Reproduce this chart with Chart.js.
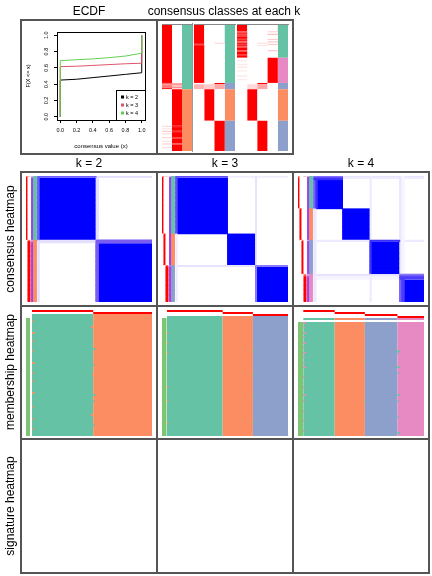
<!DOCTYPE html>
<html>
<head>
<meta charset="utf-8">
<script src="https://cdn.jsdelivr.net/npm/chart.js@4.4.1/dist/chart.umd.min.js"></script>
<style>
  body { margin: 0; background: #fff; font-family: 'Liberation Sans', Arial, sans-serif; }
  #page { position: relative; width: 432px; height: 576px; overflow: hidden; background: #fff; }
  #page canvas { position: absolute; }
  .ln { position: absolute; background: #555; }
  .t { position: absolute; font-size: 12px; color: #000; white-space: nowrap; transform: translate(-50%, -50%); }
  .r { transform: translate(-50%, -50%) rotate(-90deg); }
</style>
</head>
<body>
<div id="page"></div>
<script>
// ---- ECDF of consensus values ----
const ecdfX = [0, 0, 0.2, 0.4, 0.6, 0.8, 1, 1];
const ecdfK2 = [0, 0.45, 0.46, 0.48, 0.50, 0.52, 0.54, 1];
const ecdfK3 = [0, 0.615, 0.62, 0.63, 0.64, 0.65, 0.657, 1];
const ecdfK4 = [0, 0.688, 0.70, 0.71, 0.725, 0.745, 0.78, 1];
const ecdfTicks = [0, 0.2, 0.4, 0.6, 0.8, 1];
const kLabels = ['k = 2', 'k = 3', 'k = 4'];

// ---- class sizes (consensus + membership heatmaps) ----
const sizesK2 = [51, 49];
const sizesK3 = [46, 25, 29];
const sizesK4 = [26, 25, 27, 22];

// ---- consensus classes at each k: run lengths [n, class] ----
const topK2 = [[51, 1], [49, 2]];
const topK3 = [[46, 1], [5, 3], [25, 2], [24, 3]];
const topK4 = [[26, 1], [20, 4], [5, 3], [25, 2], [24, 3]];
// soft membership: [k, class, from, to, prob]
const topSoft = [
  [2,1,46,47,0.6],[2,1,47,48,0.45],[2,1,48,49,0.75],[2,1,49,50,0.5],[2,1,50,51,0.85],
  [2,2,46,47,0.35],[2,2,47,48,0.5],[2,2,48,49,0.25],[2,2,49,50,0.45],[2,2,50,51,0.15],
  [2,1,80,81,0.15],[2,1,82,83,0.12],[2,1,84,85,0.2],[2,1,86,87,0.15],[2,1,89,90,0.18],[2,1,92,93,0.12],[2,1,94,95,0.2],[2,1,97,98,0.15],
  [2,2,80,81,0.85],[2,2,84,85,0.8],[2,2,89,90,0.82],[2,2,94,95,0.8],
  [3,1,15,16,0.7],[3,3,14,15,0.15],[3,1,47,51,0.3],[3,3,47,51,0.35],[3,2,47,51,0.2],
  [4,1,5,6,0.75],[4,1,7,8,0.7],[4,1,8,9,0.8],[4,1,11,12,0.75],[4,1,13,14,0.7],[4,1,15,16,0.75],[4,1,17,18,0.8],[4,1,20,21,0.7],[4,1,23,24,0.75],
  [4,4,5,6,0.2],[4,4,7,8,0.25],[4,4,11,12,0.2],[4,4,13,14,0.25],[4,4,15,16,0.2],[4,4,20,21,0.25],
  [4,1,28,29,0.12],[4,1,31,32,0.1],[4,1,33,34,0.12],[4,1,36,37,0.1],[4,1,40,41,0.12],[4,1,43,44,0.1],
  [4,3,14,15,0.12],[4,3,16,17,0.12],[4,3,47,51,0.35],[4,2,47,51,0.15]
];

// ---- consensus heatmap annotations: [row, column (0 = silhouette), value] ----
const consSoftK2 = [[0,1,0.45],[0,2,0.3],[0,0,0.35],[1,0,0.7],[51,2,0.6],[51,0,0.5],[52,0,0.7]];
const consSoftK3 = [[0,1,0.4],[0,2,0.2],[0,3,0.2],[0,0,0.3],[71,3,0.6],[71,0,0.6]];
const consSoftK4 = [[0,1,0.5],[0,4,0.3],[0,0,0.4],[1,1,0.8],[51,3,0.6],[51,0,0.5],[78,4,0.5],[78,0,0.45],[79,4,0.7],[79,0,0.6]];
// lower-consensus samples: [sample, count, colour inside block, colour outside]
const consEdgesK2 = [[0,1,'#6A5CFF','#E2DCFF'],[51,2,'#7B5CF0','#E6E0FF']];
const consEdgesK3 = [[0,1,'#5E4CF6','#F0ECFF'],[71,1,'#8C7CFA','#E8E2FF']];
const consEdgesK4 = [[0,1,'#8870FF','#E6E0FF'],[1,1,'#5E4CFF','#F0ECFF'],[2,1,'#3A2EFF',null],[51,1,'#3A30FF','#EEEAFF'],
                     [78,1,'#8C74F8','#E6E0FF'],[79,1,'#6C58FA','#EEEAFF'],[80,2,'#4C3CFC','#F6F4FF']];

// ---- membership heatmap speckles: [row, from, to, class] ----
const memSpeckK2 = [[3,0,1,2],[9,0,2,2],[13,0,1,2],[18,0,1,2],[24,0,2,2],[29,0,1,2],[33,0,1,2],[39,0,2,2],[46,0,1,2],[52,0,1,2],[57,0,1,2],
                    [6,49,51,2],[17,51,53,1],[25,51,52,1],[30,50,51,2],[40,51,53,1],[43,51,52,1],[50,49,51,2],[55,51,52,1]];
const memSpeckK3 = [[8,0,1,2],[13,0,1,2],[18,0,1,2],[23,0,1,3],[35,0,1,2],[42,0,1,2],[53,0,1,2],
                    [17,71,72,1],[29,71,72,1],[40,71,72,1],[53,71,72,1]];
const memSpeckK4 = [[0,0,2,4],[2,0,1,4],[5,0,2,4],[7,0,1,4],[10,0,2,4],[12,0,1,4],[15,0,2,4],[17,0,1,4],[20,0,1,4],[22,0,2,4],
                    [27,0,1,4],[32,0,1,4],[36,0,2,4],[39,0,1,4],[44,0,1,4],[49,0,1,4],[54,0,1,4],
                    [14,78,80,1],[15,78,79,1],[22,78,80,1],[25,78,79,1],[36,78,80,1],[39,78,79,1],[47,78,79,1],[55,78,80,1],
                    [0,51,52,1],[5,51,52,1],[19,51,52,1],[39,51,52,1]];

const BLUE = '#0000FF';
const classColors = ['#66C2A5', '#FC8D62', '#8DA0CB', '#E78AC3'];
const memLeftColor = '#7CC573';

Chart.defaults.font.family = "'Liberation Sans', Arial, sans-serif";
Chart.defaults.color = '#000';

const page = document.getElementById('page');

function addCanvas(x, y, w, h) {
  const c = document.createElement('canvas');
  c.width = w; c.height = h;
  c.style.left = x + 'px'; c.style.top = y + 'px';
  c.style.width = w + 'px'; c.style.height = h + 'px';
  page.appendChild(c);
  return c;
}
function line(x0, y0, x1, y1, w, col) {
  const d = document.createElement('div');
  d.className = 'ln';
  w = w || 2;
  if (y0 === y1) { d.style.left = x0 - w / 2 + 'px'; d.style.top = y0 - w / 2 + 'px'; d.style.width = (x1 - x0 + w) + 'px'; d.style.height = w + 'px'; }
  else { d.style.left = x0 - w / 2 + 'px'; d.style.top = y0 - w / 2 + 'px'; d.style.width = w + 'px'; d.style.height = (y1 - y0 + w) + 'px'; }
  if (col) d.style.background = col;
  page.appendChild(d);
}
function text(s, x, y, rot) {
  const d = document.createElement('div');
  d.className = rot ? 't r' : 't';
  d.textContent = s;
  d.style.left = x + 'px'; d.style.top = y + 'px';
  page.appendChild(d);
}

function mix(hex, t) {
  const n = parseInt(hex.slice(1), 16);
  const c = [(n >> 16) & 255, (n >> 8) & 255, n & 255].map(v => Math.round(255 + (v - 255) * t));
  return 'rgb(' + c.join(',') + ')';
}
const probColor = p => mix('#FF0000', p);
const silColor = s => mix('#A040F0', s);

function expand(runs) { const a = []; runs.forEach(([n, v]) => { for (let i = 0; i < n; i++) a.push(v); }); return a; }
function starts(sizes) { const s = [0]; sizes.forEach(n => s.push(s[s.length - 1] + n)); return s; }
function runsOf(arr) {
  const out = []; let s = 0;
  for (let i = 1; i <= arr.length; i++) if (i === arr.length || arr[i] !== arr[s]) { out.push({ s, e: i, v: arr[s] }); s = i; }
  return out;
}

function layerSet(cells, L, inflate) {
  return {
    data: cells.map(c => c ? c.span : null),
    backgroundColor: cells.map(c => c ? c.color : 'rgba(0,0,0,0)'),
    borderWidth: 0, grouped: false, barPercentage: 1, categoryPercentage: 1, order: -L,
    inflateAmount: inflate === undefined ? 0 : inflate
  };
}
function rectOptions(indexAxis, vs) {
  const valueAxis = indexAxis === 'x' ? 'y' : 'x';
  return {
    indexAxis, responsive: false, animation: false, events: [], layout: { padding: 0 },
    plugins: { legend: { display: false }, tooltip: { enabled: false } },
    scales: {
      [indexAxis]: { type: 'category', display: false },
      [valueAxis]: Object.assign({ type: 'linear', display: false }, vs)
    }
  };
}

// ---------- ECDF ----------
const ecdfFrame = {
  id: 'ecdfFrame',
  afterDraw(chart) {
    const { ctx, chartArea: a } = chart;
    ctx.save();
    ctx.strokeStyle = '#000'; ctx.lineWidth = 1;
    ctx.strokeRect(Math.round(a.left) + 0.5, Math.round(a.top) + 0.5, Math.round(a.right - a.left), Math.round(a.bottom - a.top));
    const w = 29, h = 30, x0 = Math.round(a.right) - w, y0 = Math.round(a.bottom) - h;
    ctx.fillStyle = '#fff'; ctx.fillRect(x0, y0, w, h);
    ctx.strokeRect(x0 + 0.5, y0 + 0.5, w, h);
    ctx.font = "5.5px 'Liberation Sans', Arial, sans-serif";
    ctx.textBaseline = 'middle';
    chart.data.datasets.forEach((d, i) => {
      const y = y0 + 7 + i * 8;
      ctx.fillStyle = d.borderColor; ctx.fillRect(x0 + 5, y - 1.5, 3, 3);
      ctx.fillStyle = '#000'; ctx.fillText(d.label, x0 + 10, y);
    });
    ctx.restore();
  }
};
function ecdfSet(label, ys, col, order) {
  return { label, data: ecdfX.map((x, i) => ({ x, y: ys[i] })), borderColor: col, backgroundColor: col, order };
}
const axisCommon = {
  type: 'linear', min: -0.04, max: 1.04,
  afterBuildTicks: s => { s.ticks = ecdfTicks.map(v => ({ value: v })); },
  grid: { display: true, drawOnChartArea: false, drawTicks: true, tickLength: 3, color: '#000', lineWidth: 1 },
  border: { display: false }
};
new Chart(addCanvas(21, 20, 136, 134), {
  type: 'line',
  data: { datasets: [ecdfSet(kLabels[0], ecdfK2, '#000000', 3), ecdfSet(kLabels[1], ecdfK3, '#DF536B', 2), ecdfSet(kLabels[2], ecdfK4, '#61D04F', 1)] },
  options: {
    responsive: false, animation: false, events: [],
    elements: { point: { radius: 0 }, line: { borderWidth: 1, tension: 0 } },
    layout: { padding: { left: 0, right: 12, top: 12, bottom: 0 } },
    plugins: { legend: { display: false }, tooltip: { enabled: false } },
    scales: {
      x: Object.assign({}, axisCommon, {
        afterFit: s => { s.height = 34; },
        ticks: { font: { size: 5.5 }, color: '#000', padding: 4, maxRotation: 0, autoSkip: false, callback: v => v.toFixed(1) },
        title: { display: true, text: 'consensus value (x)', font: { size: 6 }, color: '#000', padding: 4 }
      }),
      y: Object.assign({}, axisCommon, {
        afterFit: s => { s.width = 36; },
        ticks: { font: { size: 5.5 }, color: '#000', padding: 4, minRotation: 90, maxRotation: 90, crossAlign: 'center', autoSkip: false, callback: v => v.toFixed(1) },
        title: { display: true, text: 'F(X <= x)', font: { size: 5.5 }, color: '#000', padding: 4 }
      })
    }
  },
  plugins: [ecdfFrame]
});

// ---------- consensus classes at each k ----------
function topGroup(k, runs, box) {
  const cls = expand(runs);
  const N = cls.length;
  const cols = [];
  for (let j = 1; j <= k; j++) {
    const vals = cls.map(c => (c === j ? 1 : 0));
    topSoft.filter(s => s[0] === k && s[1] === j).forEach(s => { for (let i = s[2]; i < s[3]; i++) vals[i] = s[4]; });
    cols.push(vals.map(probColor));
  }
  cols.push(cls.map(c => classColors[c - 1]));
  const colRuns = cols.map(runsOf);
  const nLayers = Math.max(...colRuns.map(r => r.length));
  const datasets = [];
  for (let L = 0; L < nLayers; L++) {
    datasets.push(layerSet(colRuns.map(r => (r[L] ? { span: [r[L].s, r[L].e], color: r[L].v } : null)), L));
  }
  new Chart(addCanvas(box.x, box.y, box.w, box.h), {
    type: 'bar',
    data: { labels: cols.map((_, i) => 'col' + i), datasets },
    options: rectOptions('x', { min: 0, max: N, reverse: true })
  });
}
topGroup(2, topK2, { x: 162, y: 25, w: 30, h: 126 });
topGroup(3, topK3, { x: 194, y: 25, w: 41, h: 126 });
topGroup(4, topK4, { x: 237, y: 25, w: 51, h: 126 });

// ---------- consensus heatmaps ----------
function consensusPanel(k, sizes, soft, edges, box) {
  const cls = expand(sizes.map((n, i) => [n, i + 1]));
  const st = starts(sizes);
  const N = cls.length;
  const unit = (box.right - box.heat) / N;
  const u = p => (p - (box.heat - box.left)) / unit;
  const val = (r, j) => { const o = soft.find(s => s[0] === r && s[1] === j); return o ? o[2] : (j === 0 || cls[r] === j ? 1 : 0); };
  const layers = [];
  for (let j = 1; j <= k; j++) layers.push(cls.map((c, r) => ({ span: [u(2 * j - 2), u(2 * j)], color: probColor(val(r, j)) })));
  layers.push(cls.map((c, r) => ({ span: [u(2 * k + 1.5), u(2 * k + 3.5)], color: silColor(val(r, 0)) })));
  layers.push(cls.map(c => ({ span: [u(2 * k + 3.5), u(box.heat - box.left - 1.5)], color: classColors[c - 1] })));
  layers.push(cls.map(c => ({ span: [st[c - 1], st[c]], color: BLUE })));
  edges.forEach(([a, n, inC, outC]) => { if (outC) layers.push(cls.map((c, r) => (r >= a && r < a + n ? { span: [0, N], color: outC } : null))); });
  edges.forEach(([a, n, inC, outC]) => layers.push(cls.map(c => { const col = c === cls[a] ? inC : outC; return col ? { span: [a, a + n], color: col } : null; })));
  edges.forEach(([a, n, inC]) => layers.push(cls.map((c, r) => (r >= a && r < a + n ? { span: [st[c - 1], st[c]], color: inC } : null))));
  new Chart(addCanvas(box.left, box.top, box.right - box.left, box.bottom - box.top), {
    type: 'bar',
    data: { labels: cls.map((_, r) => 's' + r), datasets: layers.map((l, i) => layerSet(l, i, 0.4)) },
    options: rectOptions('y', { min: u(0), max: N })
  });
}
consensusPanel(2, sizesK2, consSoftK2, consEdgesK2, { left: 26, heat: 38, right: 152, top: 176, bottom: 302 });
consensusPanel(3, sizesK3, consSoftK3, consEdgesK3, { left: 162, heat: 176, right: 288, top: 176, bottom: 302 });
consensusPanel(4, sizesK4, consSoftK4, consEdgesK4, { left: 298, heat: 314, right: 424, top: 176, bottom: 302 });

// ---------- membership heatmaps ----------
function membershipPanel(k, sizes, specks, box) {
  const st = starts(sizes);
  const N = st[k];
  const unit = (box.right - box.main) / N;
  const u = p => (p - (box.main - box.left)) / unit;
  const labels = [];
  for (let j = 1; j <= k; j++) labels.push('p' + j);
  if (box.classRow) labels.push('class', 'gap');
  const head = labels.length;
  for (let r = 0; r < box.rows - head; r++) labels.push('m' + r);
  const layers = [];
  layers.push(labels.map((l, i) => (i < k ? { span: [st[i], st[i + 1]], color: '#FF0000' } : null)));
  if (box.classRow) for (let c = 0; c < k; c++) layers.push(labels.map((l, i) => (i === k ? { span: [st[c], st[c + 1]], color: classColors[c] } : null)));
  for (let c = 0; c < k; c++) layers.push(labels.map((l, i) => (i >= head ? { span: [st[c], st[c + 1]], color: classColors[c] } : null)));
  specks.forEach(([r, a, b, c]) => layers.push(labels.map((l, i) => (i === head + r ? { span: [a, b], color: classColors[c - 1] } : null))));
  layers.push(labels.map((l, i) => (i >= head + box.leftSkip ? { span: [u(0), u(box.leftW)], color: memLeftColor } : null)));
  new Chart(addCanvas(box.left, box.top, Math.round(box.right - box.left), box.bottom - box.top), {
    type: 'bar',
    data: { labels, datasets: layers.map((l, i) => layerSet(l, i, 0)) },
    options: rectOptions('y', { min: u(0), max: u(Math.round(box.right - box.left)) })
  });
}
membershipPanel(2, sizesK2, memSpeckK2, { left: 26, main: 32, right: 152, top: 310, bottom: 436, rows: 63, leftW: 4, leftSkip: 2, classRow: false });
membershipPanel(3, sizesK3, memSpeckK3, { left: 162, main: 167, right: 288, top: 310, bottom: 436, rows: 63, leftW: 4.5, leftSkip: 1, classRow: false });
membershipPanel(4, sizesK4, memSpeckK4, { left: 298, main: 303.3, right: 424, top: 310, bottom: 436, rows: 63, leftW: 5, leftSkip: 0, classRow: true });

// ---------- frames and text ----------
line(21, 20, 293, 20); line(21, 154, 293, 154);
line(21, 20, 21, 154); line(157, 20, 157, 154); line(293, 20, 293, 154);
line(192.8, 24, 192.8, 151, 1.3, '#999');
line(162, 24, 192, 24, 1, '#888'); line(194, 24, 235, 24, 1, '#888'); line(237, 24, 288, 24, 1, '#888');
line(21, 172, 429, 172); line(21, 305.5, 429, 305.5); line(21, 439, 429, 439); line(21, 573, 429, 573);
[21, 157, 293, 429].forEach(x => line(x, 172, x, 573));

text('ECDF', 89, 11);
text('consensus classes at each k', 224, 11);
text('k = 2', 89, 163);
text('k = 3', 225, 163);
text('k = 4', 361, 163);
text('consensus heatmap', 10, 238.5, true);
text('membership heatmap', 10, 372, true);
text('signature heatmap', 10, 506, true);
</script>
</body>
</html>
